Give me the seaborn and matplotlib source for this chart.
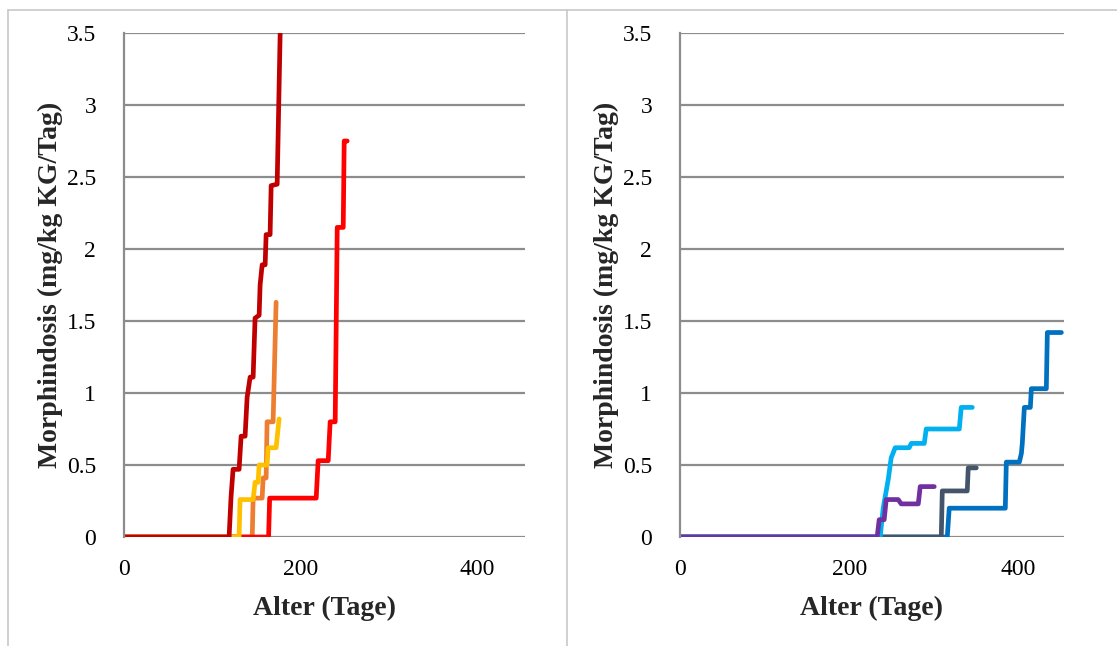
import matplotlib
matplotlib.use("Agg")
import matplotlib.pyplot as plt
from matplotlib.lines import Line2D
import seaborn as sns
import pandas as pd

sns.set_theme(style="white")
plt.rcParams["font.family"] = ["Liberation Serif", "DejaVu Serif"]

# Left panel: age (days) and morphine dose (mg/kg BW/day), step-wise dosing curves
orange_age = [0, 145.2, 146.2, 156.4, 157.5, 160.9, 162.0, 168.8, 172.2]
orange_dose = [0, 0, 0.27, 0.27, 0.41, 0.41, 0.80, 0.80, 1.63]

red_age = [0, 163.7, 164.9, 217.6, 219.8, 231.2, 233.4, 239.1, 240.2, 241.4, 248.2, 249.3, 252.7]
red_dose = [0, 0, 0.27, 0.27, 0.53, 0.53, 0.80, 0.80, 1.44, 2.15, 2.15, 2.75, 2.75]

yellow_age = [0, 130.3, 131.4, 146.2, 148.4, 151.8, 153.0, 162.0, 163.2, 172.2, 175.6]
yellow_dose = [0, 0, 0.26, 0.26, 0.38, 0.38, 0.50, 0.50, 0.62, 0.62, 0.82]

darkred_age = [0, 119.0, 121.2, 123.5, 130.3, 132.6, 137.1, 139.4, 142.8, 146.2, 148.4,
               153.0, 154.1, 156.4, 159.8, 160.9, 165.4, 166.6, 173.4, 176.8]
darkred_dose = [0, 0, 0.28, 0.47, 0.47, 0.70, 0.70, 0.97, 1.11, 1.11, 1.52, 1.54, 1.75,
                1.89, 1.89, 2.10, 2.10, 2.44, 2.45, 3.5]

# Right panel
darkblue_age = [0, 316.0, 318.3, 384.6, 385.8, 401.2, 403.6, 404.7, 407.1, 414.2, 415.4,
                433.1, 434.3, 450.9]
darkblue_dose = [0, 0, 0.20, 0.20, 0.52, 0.52, 0.58, 0.65, 0.90, 0.90, 1.03, 1.03, 1.42, 1.42]

gray_age = [0, 308.9, 310.1, 339.6, 340.8, 350.3]
gray_dose = [0, 0, 0.32, 0.32, 0.48, 0.48]

lightblue_age = [0, 236.7, 240.2, 246.2, 249.7, 254.4, 271.0, 273.4, 288.8, 291.1, 330.2,
                 332.5, 345.6]
lightblue_dose = [0, 0, 0.20, 0.40, 0.55, 0.62, 0.62, 0.65, 0.65, 0.75, 0.75, 0.90, 0.90]

purple_age = [0, 233.1, 235.5, 241.4, 243.8, 258.0, 261.5, 281.7, 284.0, 300.6]
purple_dose = [0, 0, 0.12, 0.12, 0.26, 0.26, 0.23, 0.23, 0.35, 0.35]

y_ticks = [0, 0.5, 1, 1.5, 2, 2.5, 3, 3.5]
y_tick_labels = ["0", "0.5", "1", "1.5", "2", "2.5", "3", "3.5"]
x_ticks = [0, 200, 400]
x_tick_labels = ["0", "200", "400"]

left_series = [
    (orange_age, orange_dose, "#ED7D31"),
    (red_age, red_dose, "#FF0000"),
    (yellow_age, yellow_dose, "#FFC000"),
    (darkred_age, darkred_dose, "#C00000"),
]
right_series = [
    (darkblue_age, darkblue_dose, "#0070C0"),
    (gray_age, gray_dose, "#44546A"),
    (lightblue_age, lightblue_dose, "#00B0F0"),
    (purple_age, purple_dose, "#7030A0"),
]

W, H = 1117, 646
fig = plt.figure(figsize=(W / 100, H / 100), dpi=100)
fig.patch.set_facecolor("white")


def make_axes(left_px, right_px, xmax, series):
    ax = fig.add_axes([left_px / W, (H - 537) / H, (right_px - left_px) / W, (537 - 33) / H])
    for age, dose, color in series:
        df = pd.DataFrame({"age": age, "dose": dose})
        sns.lineplot(data=df, x="age", y="dose", sort=False, estimator=None,
                     color=color, lw=3.4, ax=ax, solid_capstyle="round",
                     solid_joinstyle="round")
    ax.set_xlim(0, xmax)
    ax.set_ylim(0, 3.5)
    ax.set_yticks(y_ticks)
    ax.set_yticklabels(y_tick_labels)
    ax.set_xticks(x_ticks)
    ax.set_xticklabels(x_tick_labels)
    ax.tick_params(axis="both", length=0, labelsize=17, colors="black")
    ax.tick_params(axis="y", pad=20)
    ax.tick_params(axis="x", pad=16)
    ax.grid(axis="y", color="#8c8c8c", lw=1.6)
    ax.grid(axis="x", visible=False)
    ax.set_axisbelow(True)
    for side in ["top", "right", "bottom"]:
        ax.spines[side].set_visible(False)
    ax.spines["left"].set_color("#8c8c8c")
    ax.spines["left"].set_linewidth(1.6)
    ax.set_facecolor("white")
    width = right_px - left_px
    ax.set_xlabel("Alter (Tage)", fontsize=20, fontweight="bold")
    ax.xaxis.set_label_coords(0.5, (537 - 596) / 504)
    ax.set_ylabel("Morphindosis (mg/kg KG/Tag)", fontsize=20, fontweight="bold")
    ax.yaxis.set_label_coords((63 - 124) / width, 0.5)
    return ax


make_axes(124, 525, 454, left_series)
make_axes(680, 1064, 454, right_series)

# table cell borders around the two charts
border = "#c8c8c8"
fig.add_artist(Line2D([8 / W, 8 / W], [0, 1 - 10 / H], color=border, lw=1.2))
fig.add_artist(Line2D([567 / W, 567 / W], [0, 1 - 10 / H], color=border, lw=1.2))
fig.add_artist(Line2D([8 / W, 1], [1 - 10 / H, 1 - 10 / H], color=border, lw=1.2))

fig.savefig("out.png", dpi=100, facecolor="white")
